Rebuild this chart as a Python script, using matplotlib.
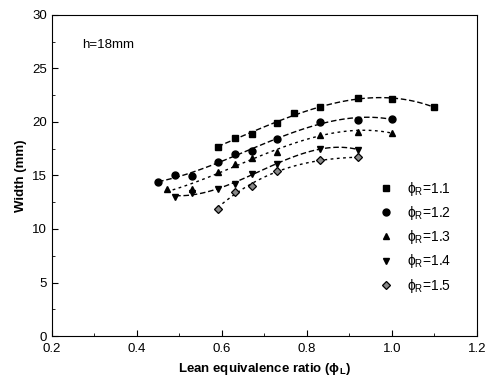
import numpy as np
import matplotlib
matplotlib.use('Agg')
import matplotlib.pyplot as plt
from matplotlib.ticker import MultipleLocator

plt.rcParams['font.family'] = ['Liberation Sans', 'DejaVu Sans']
plt.rcParams['mathtext.fontset'] = 'custom'
plt.rcParams['mathtext.rm'] = 'Liberation Sans'
plt.rcParams['mathtext.it'] = 'Liberation Sans:italic'
plt.rcParams['mathtext.bf'] = 'Liberation Sans:bold'

# 数据
x_11 = [0.59, 0.63, 0.67, 0.73, 0.77, 0.83, 0.92, 1.00, 1.10]
w_11 = [17.7, 18.5, 18.85, 19.9, 20.8, 21.4, 22.2, 22.1, 21.4]

x_12 = [0.45, 0.49, 0.53, 0.59, 0.63, 0.67, 0.73, 0.83, 0.92, 1.00]
w_12 = [14.4, 15.0, 14.95, 16.3, 17.0, 17.3, 18.4, 20.0, 20.2, 20.3]

x_13 = [0.47, 0.53, 0.59, 0.63, 0.67, 0.73, 0.83, 0.92, 1.00]
w_13 = [13.7, 13.75, 15.3, 16.1, 16.6, 17.2, 18.8, 19.1, 19.0]

x_14 = [0.49, 0.53, 0.59, 0.63, 0.67, 0.73, 0.83, 0.92]
w_14 = [13.0, 13.4, 13.75, 14.2, 15.1, 16.1, 17.5, 17.4]

x_15 = [0.59, 0.63, 0.67, 0.73, 0.83, 0.92]
w_15 = [11.9, 13.5, 14.0, 15.4, 16.4, 16.7]

labels = ['1.1', '1.2', '1.3', '1.4', '1.5']
markers = ['s', 'o', '^', 'v', 'D']
dashes = [(4, 2), (4, 2), (2, 2.5), (4, 2), (2, 2.5)]

fig = plt.figure(figsize=(4.9, 3.89), dpi=100)
ax = fig.add_axes([0.106, 0.136, 0.867, 0.826])

series = [(x_11, w_11), (x_12, w_12), (x_13, w_13), (x_14, w_14), (x_15, w_15)]
for (xs, ws), lab, m, d in zip(series, labels, markers, dashes):
    xs = np.array(xs); ws = np.array(ws)
    # 三次多项式拟合曲线
    p = np.polyfit(xs, ws, 3)
    xx = np.linspace(xs.min(), xs.max(), 100)
    ax.plot(xx, np.polyval(p, xx), color='black', lw=1.0, dashes=d)
    ms = 5 if m != 'D' else 4.2
    if m == 'D':
        ax.plot(xs, ws, ls='none', marker=m, ms=ms, mfc='#888888', mec='black', mew=0.9,
                label=r'$\mathregular{\phi_R}$=' + lab)
    else:
        ax.plot(xs, ws, ls='none', marker=m, ms=ms, color='black',
                label=r'$\mathregular{\phi_R}$=' + lab)

ax.set_xlim(0.2, 1.2)
ax.set_ylim(0, 30)
ax.xaxis.set_major_locator(MultipleLocator(0.2))
ax.xaxis.set_minor_locator(MultipleLocator(0.1))
ax.yaxis.set_major_locator(MultipleLocator(5))
ax.yaxis.set_minor_locator(MultipleLocator(2.5))
ax.tick_params(which='both', direction='in', labelsize=9.5)
ax.tick_params(which='major', length=4)
ax.tick_params(which='minor', length=2)
ax.tick_params(axis='x', pad=5)
ax.xaxis.set_major_formatter(matplotlib.ticker.FormatStrFormatter('%.1f'))

ax.set_xlabel(r'Lean equivalence ratio ($\mathregular{\phi_L}$)', fontweight='bold', fontsize=9.5)
ax.set_ylabel('Width (mm)', fontweight='bold', fontsize=9.5)
ax.text(0.27, 27.2, 'h=18mm', fontsize=9.5, va='center')

ax.legend(loc='lower right', bbox_to_anchor=(0.97, 0.09), frameon=False, fontsize=10,
          handletextpad=0.8, labelspacing=0.45, handlelength=1.5)

fig.savefig('out.png', dpi=100)
